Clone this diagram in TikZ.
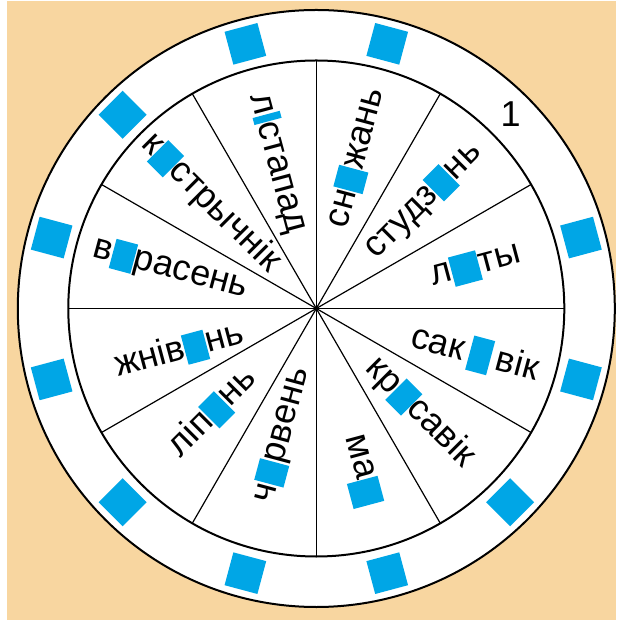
\documentclass[tikz,border=0pt]{standalone}
\usepackage{fontspec}
\setmainfont{Liberation Sans}
\usetikzlibrary{positioning}
\definecolor{figFondo}{RGB}{248,214,160}
\definecolor{figAzul}{RGB}{0,166,230}
\newcommand{\hueco}[1][0.62em]{\textcolor{figAzul}{\rule[-0.18em]{#1}{0.84em}}}
\newcommand{\huecog}[3]{\textcolor{figAzul}{\rule[#1]{#2}{#3}}}
\tikzset{
  palabra/.style={
    font=\fontsize{36}{40}\selectfont, inner sep=0pt
  },
  casilla/.style={
    rectangle, fill=figAzul, minimum size=34pt, inner sep=0pt
  },
  borde/.style={draw=black, line width=2pt},
  radio/.style={draw=black, line width=1.2pt}
}

\begin{document}
\begin{tikzpicture}
  \useasboundingbox[fill=white] (-316.3pt,-311.5pt) rectangle (299.7pt,308.5pt);
  \fill[figFondo] (-309.3pt,-311.5pt) rectangle (299.7pt,307.5pt);

  \draw[borde, fill=white] (0,0) circle[radius=298.5pt];
  \draw[borde] (0,0) circle[radius=248pt];
  \foreach \a in {0,30,...,330}
    \draw[radio] (0,0) -- (\a:248pt);

  \foreach \a [count=\i] in {15,75,105,135,165,195,225,255,285,315,345}
    \node[casilla, rotate=\a] (casilla\i) at (\a:274pt) {};
  \node[font=\fontsize{36}{40}\selectfont, inner sep=0pt] (num) at (45:275pt) {1};

  \node[palabra, rotate=-75] (lis) at (105:150pt) {л\huecog{-0.1em}{0.2em}{0.78em}стапад};
  \node[palabra, rotate=75] (sne) at (75:156pt) {сн\hueco жань};
  \node[palabra, rotate=45] (stu) at (45:152pt) {студз\hueco нь};
  \node[palabra, rotate=15] (lju) at (15:165pt) {л\hueco[0.78em]ты};
  \node[palabra, rotate=-15] (sak) at (-16:165pt) {сак\,\huecog{-0.22em}{0.6em}{0.98em}\,вік};
  \node[palabra, rotate=-45] (kra) at (-45:147pt) {кр\hueco савік};
  \node[palabra, rotate=-75] (maj) at (-75:168pt) {ма\huecog{-0.3em}{0.72em}{0.88em}};
  \node[palabra, rotate=75] (chr) at (-105:131pt) {ч\hueco рвень};
  \node[palabra, rotate=45] (lip) at (-135:147pt) {ліп\hueco нь};
  \node[palabra, rotate=15] (zhn) at (-163:143pt) {жнів\hueco нь};
  \node[palabra, rotate=-15] (ver) at (165:151pt) {в\hueco расень};
  \node[palabra, rotate=-45] (kas) at (135:149pt) {к\hueco стрычнік};
\end{tikzpicture}
\end{document}
